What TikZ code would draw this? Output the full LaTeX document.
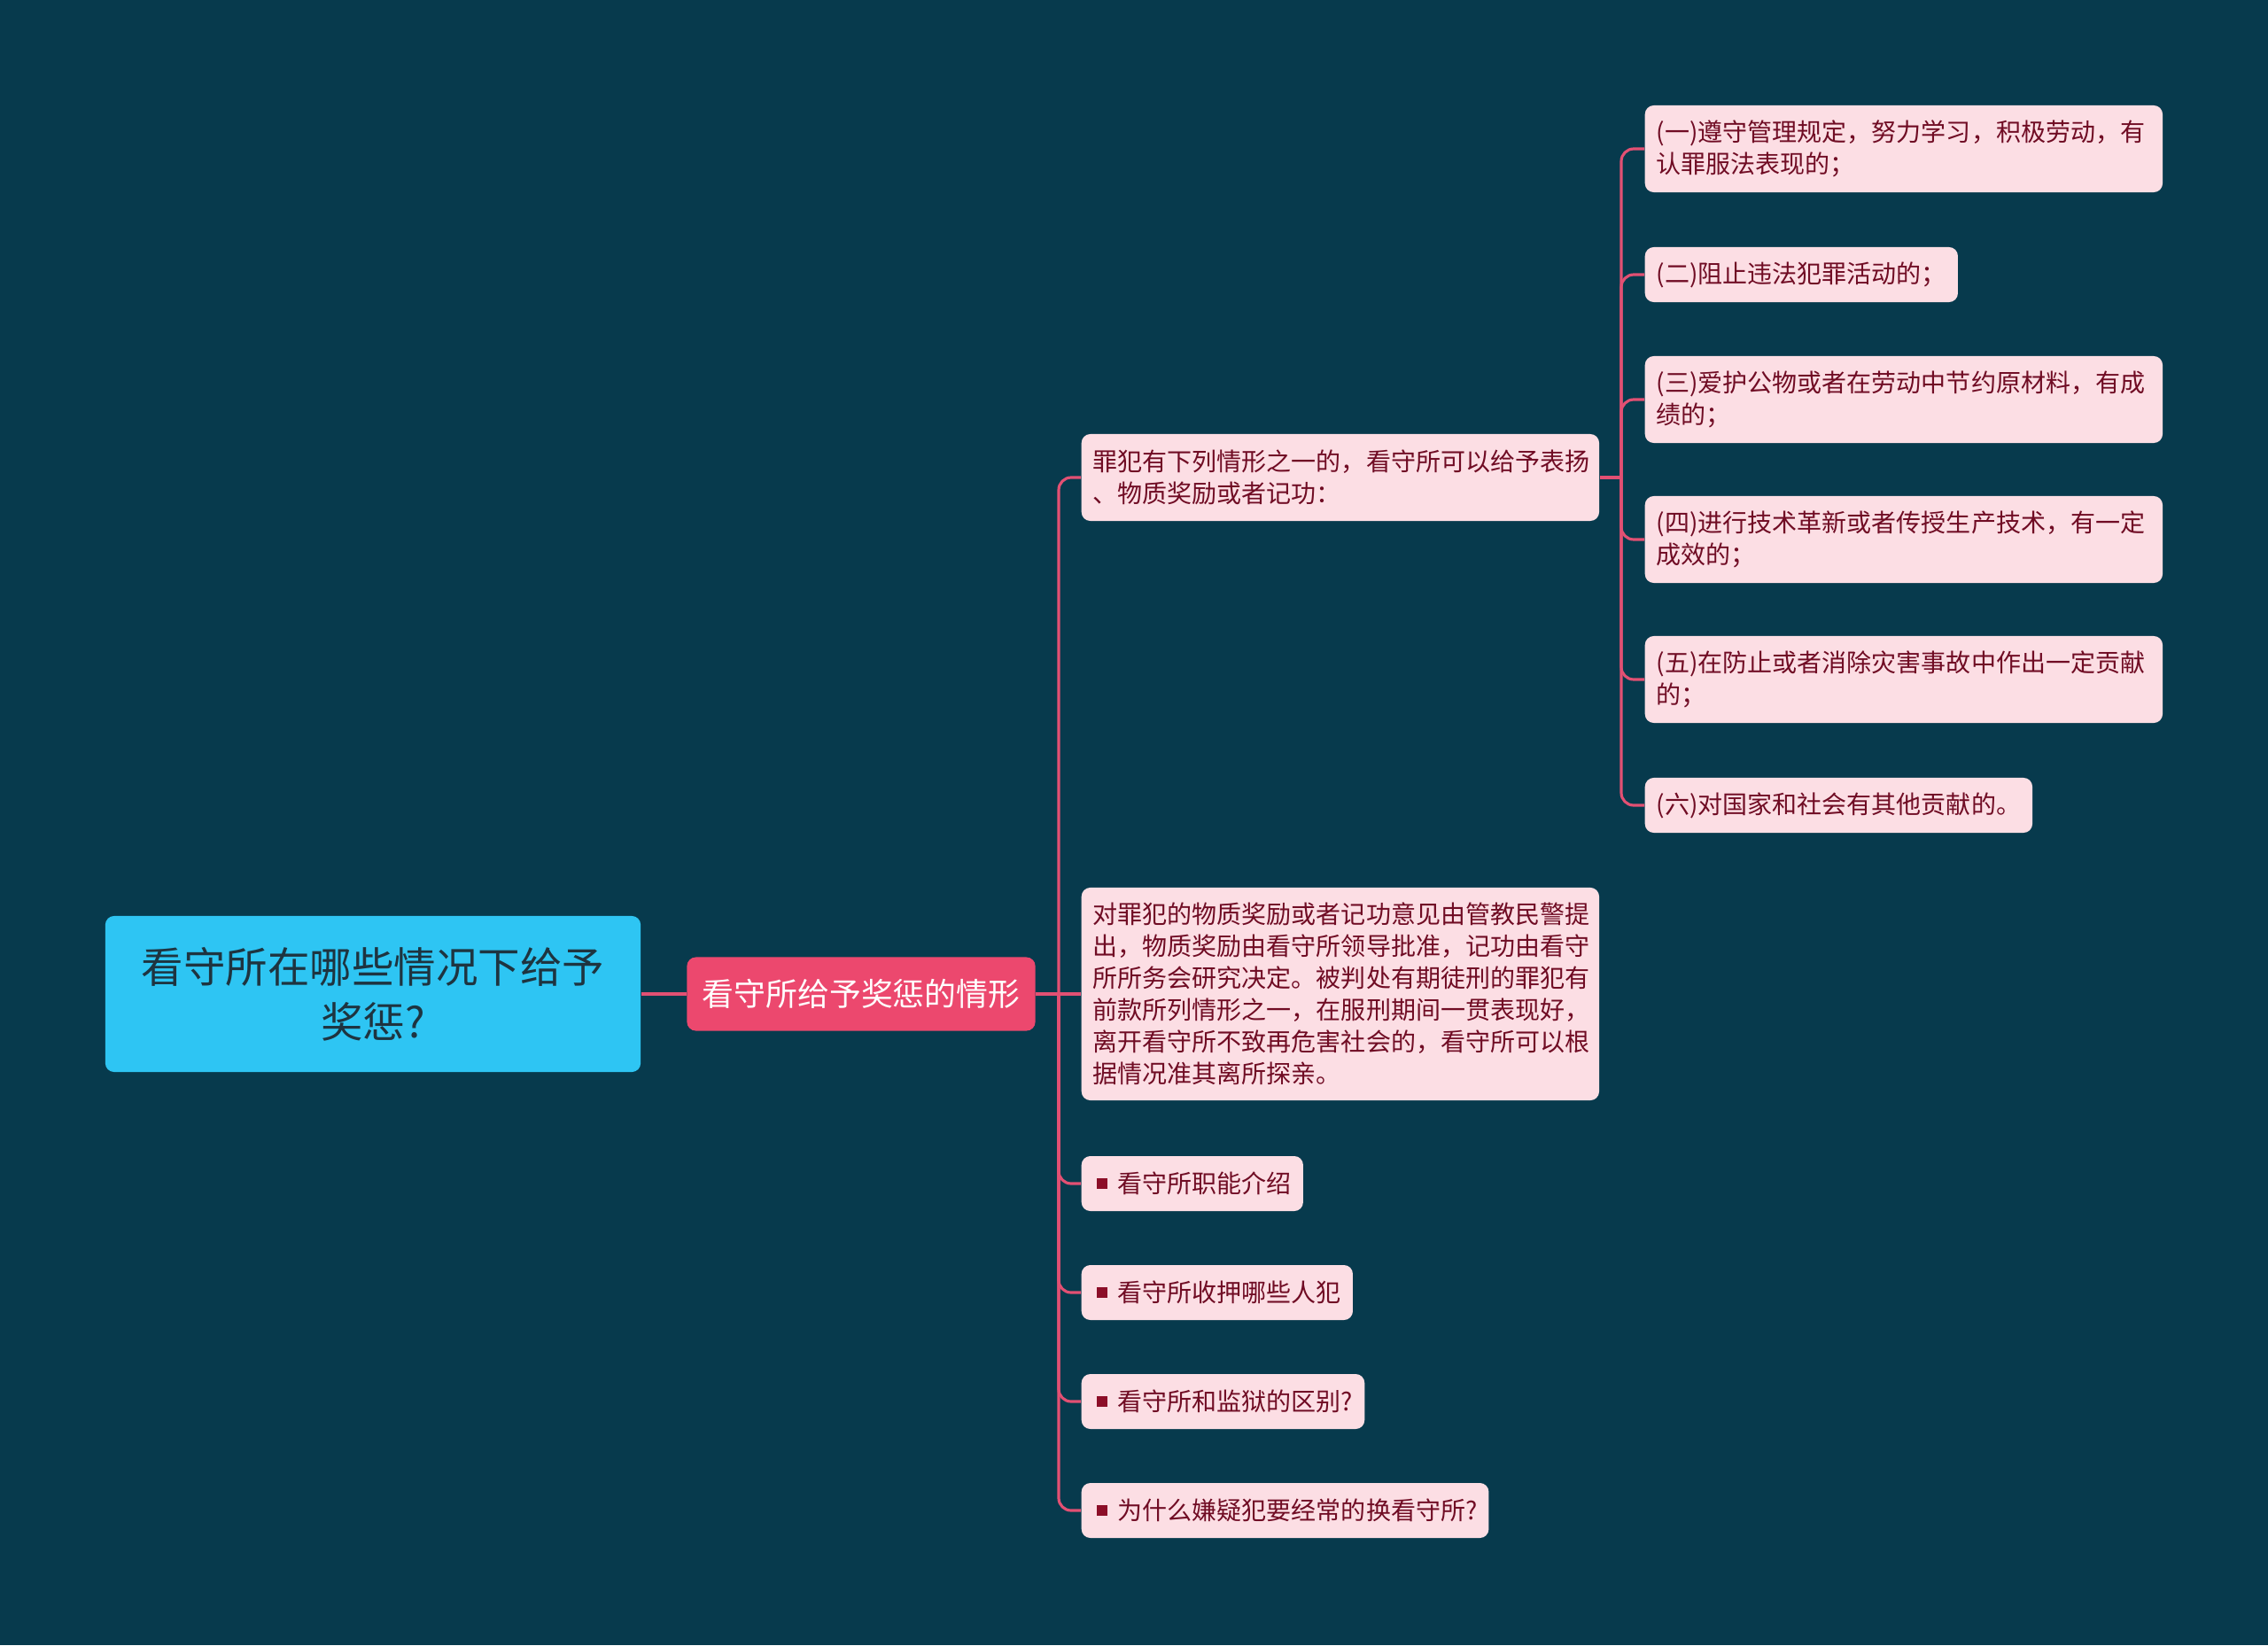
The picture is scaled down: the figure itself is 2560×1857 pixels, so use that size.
\documentclass[tikz,border=0pt]{standalone}
\usepackage{fontspec}
\setmainfont{Noto Sans CJK SC}
\usetikzlibrary{positioning}
\definecolor{bgnavy}{RGB}{7,58,77}
\definecolor{topiccyan}{RGB}{46,197,243}
\definecolor{rootink}{RGB}{30,52,64}
\definecolor{branchrose}{RGB}{236,72,110}
\definecolor{linkrose}{RGB}{226,80,115}
\definecolor{leafpink}{RGB}{252,222,228}
\definecolor{leafink}{RGB}{112,12,36}
\definecolor{bulletred}{RGB}{140,14,40}
\newcommand{\sqmark}{\hspace{0.04cm}\textcolor{bulletred}{\rule[0.05cm]{0.12cm}{0.12cm}}\hspace{0.12cm}}
\tikzset{
  rootbox/.style={
    fill=topiccyan, text=rootink, rounded corners=0.1cm,
    font=\fontsize{13.5pt}{17.6pt}\selectfont, align=center,
    minimum width=6.04cm, minimum height=1.76cm, inner sep=0pt
  },
  branchbox/.style={
    fill=branchrose, text=white, rounded corners=0.1cm,
    font=\fontsize{10.2pt}{12pt}\selectfont,
    minimum width=3.93cm, minimum height=0.83cm, inner sep=0pt
  },
  leaf/.style={
    fill=leafpink, text=leafink, rounded corners=0.1cm,
    font=\fontsize{7.97pt}{10.24pt}\selectfont, anchor=west,
    inner xsep=0.13cm, inner ysep=0pt, minimum height=0.62cm
  },
  leafwide/.style={
    leaf, text width=5.58cm, align=left, minimum height=0.98cm
  },
  link/.style={draw=linkrose, line width=0.9pt, rounded corners=0.14cm}
}
\begin{document}
\begin{tikzpicture}[x=0.01cm, y=-0.01cm]
  \fill[bgnavy] (0,0) rectangle (2560,1857);
  \useasboundingbox (0,0) rectangle (2560,1857);
  % root and main branch
  \node[rootbox] (root) at (421,1122) {看守所在哪些情况下给予\\奖惩?};
  \node[branchbox] (branch) at (972,1122) {看守所给予奖惩的情形};
  % second level
  \node[leafwide] (merit) at (1220,539) {罪犯有下列情形之一的，看守所可以给予表扬\\、物质奖励或者记功：};
  \node[leafwide, minimum height=2.4cm] (approve) at (1220,1122) {对罪犯的物质奖励或者记功意见由管教民警提\\出，物质奖励由看守所领导批准，记功由看守\\所所务会研究决定。被判处有期徒刑的罪犯有\\前款所列情形之一，在服刑期间一贯表现好，\\离开看守所不致再危害社会的，看守所可以根\\据情况准其离所探亲。};
  \node[leaf] (duty) at (1220,1336) {\sqmark 看守所职能介绍};
  \node[leaf] (inmate) at (1220,1459) {\sqmark 看守所收押哪些人犯};
  \node[leaf] (prison) at (1220,1582) {\sqmark 看守所和监狱的区别?};
  \node[leaf] (transfer) at (1220,1705) {\sqmark 为什么嫌疑犯要经常的换看守所?};
  % six cases
  \node[leafwide] (case1) at (1856,168) {(一)遵守管理规定，努力学习，积极劳动，有\\认罪服法表现的；};
  \node[leaf] (case2) at (1856,310) {(二)阻止违法犯罪活动的；};
  \node[leafwide] (case3) at (1856,451) {(三)爱护公物或者在劳动中节约原材料，有成\\绩的；};
  \node[leafwide] (case4) at (1856,609) {(四)进行技术革新或者传授生产技术，有一定\\成效的；};
  \node[leafwide] (case5) at (1856,767) {(五)在防止或者消除灾害事故中作出一定贡献\\的；};
  \node[leaf] (case6) at (1856,909) {(六)对国家和社会有其他贡献的。};
  % connectors
  \coordinate (trunk) at (1195,1122);
  \coordinate (subtrunk) at (1830,539);
  \draw[link] (root.east) -- (branch.west);
  \draw[link] (branch.east) -- (approve.west);
  \foreach \n in {merit,duty,inmate,prison,transfer}
    \draw[link] (trunk) |- (\n.west);
  \draw[link] (merit.east) -- (subtrunk);
  \foreach \n in {case1,case2,case3,case4,case5,case6}
    \draw[link] (subtrunk) |- (\n.west);
\end{tikzpicture}
\end{document}
